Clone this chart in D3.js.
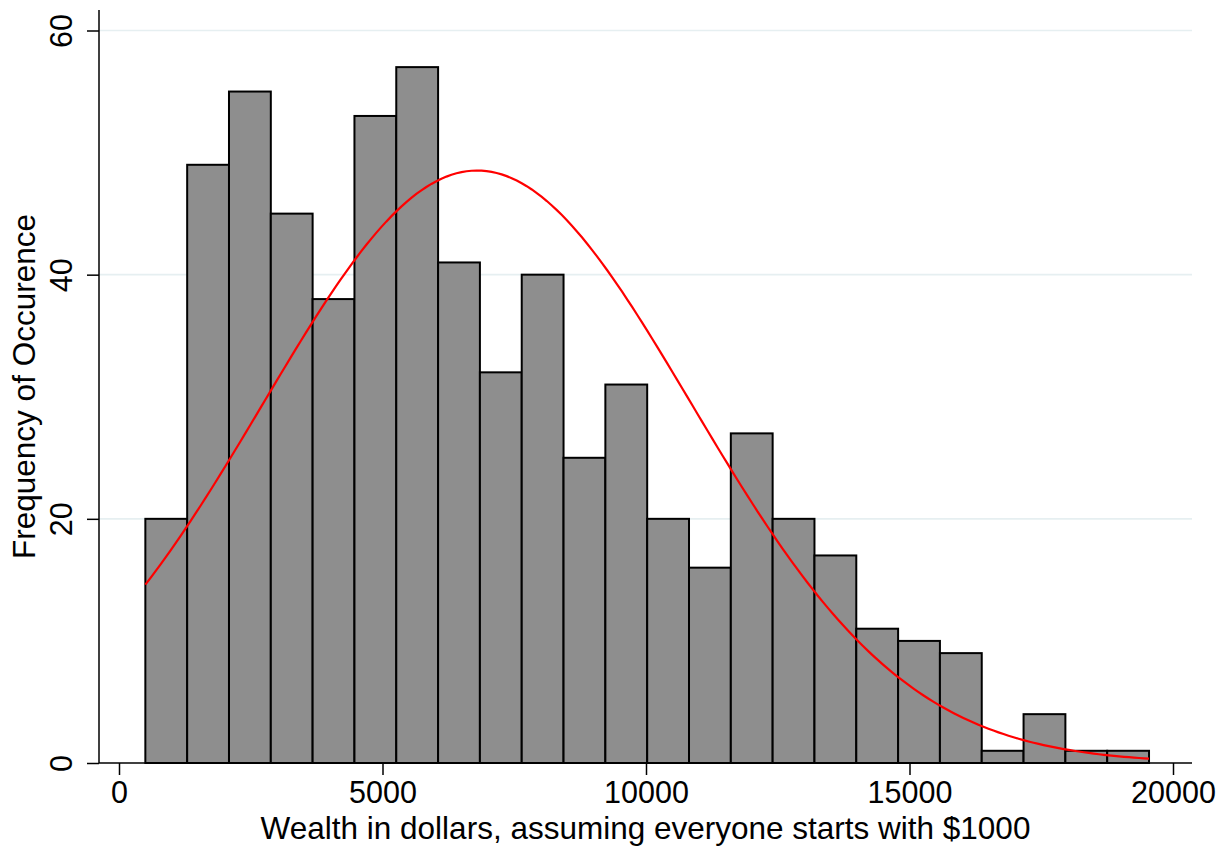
<!DOCTYPE html>
<html>
<head>
<meta charset="utf-8">
<script src="https://cdn.jsdelivr.net/npm/d3@7"></script>
<style>
  body { margin: 0; background: #fff; }
  svg { display: block; font-family: "Liberation Sans", Arial, sans-serif; }
</style>
</head>
<body>
<svg id="chart" width="1232" height="851"></svg>
<script>
// histogram data
const counts = [20, 49, 55, 45, 38, 53, 57, 41, 32, 40, 25, 31, 20, 16, 27, 20, 17, 11, 10, 9, 1, 4, 1, 1];
const binMin = 500;
const binMax = 19545;
const xTicks = [0, 5000, 10000, 15000, 20000];
const yTicks = [0, 20, 40, 60];
const gridTicks = [20, 40, 60];
const xTitle = "Wealth in dollars, assuming everyone starts with $1000";
const yTitle = "Frequency of Occurence";

const svg = d3.select("#chart");

// plot region (pixels)
const plotL = 99, plotR = 1192, plotT = 10, plotB = 763;

const x = d3.scaleLinear().domain([0, 20000]).range([119, 1173]);
const y = d3.scaleLinear().domain([0, 60]).range([plotB, 30.5]);

const binW = (binMax - binMin) / counts.length;
const bins = counts.map((c, i) => ({ x0: binMin + i * binW, x1: binMin + (i + 1) * binW, n: c }));

// grid lines
svg.append("g").selectAll("line")
    .data(gridTicks)
    .enter().append("line")
    .attr("x1", plotL).attr("x2", plotR)
    .attr("y1", d => y(d)).attr("y2", d => y(d))
    .attr("stroke", "#e6eff1")
    .attr("stroke-width", 1.6);

// bars
svg.append("g").selectAll("rect")
    .data(bins)
    .enter().append("rect")
    .attr("x", d => x(d.x0))
    .attr("y", d => y(d.n))
    .attr("width", d => x(d.x1) - x(d.x0))
    .attr("height", d => y(0) - y(d.n))
    .attr("fill", "#8e8e8e")
    .attr("stroke", "#000")
    .attr("stroke-width", 2);

// normal curve fitted to the binned data (mean / sd from bin midpoints)
const N = d3.sum(counts);
const mids = bins.map(b => (b.x0 + b.x1) / 2);
const mean = d3.sum(bins, (b, i) => b.n * mids[i]) / N;
const sd = Math.sqrt(d3.sum(bins, (b, i) => b.n * (mids[i] - mean) ** 2) / N);
const curvePts = d3.range(0, 201).map(k => {
    const v = binMin + (binMax - binMin) * k / 200;
    const z = (v - mean) / sd;
    return [v, N * binW * Math.exp(-z * z / 2) / (sd * Math.sqrt(2 * Math.PI))];
});
svg.append("path")
    .datum(curvePts)
    .attr("fill", "none")
    .attr("stroke", "#ff0000")
    .attr("stroke-width", 2.2)
    .attr("d", d3.line().x(d => x(d[0])).y(d => y(d[1])));

// axes
const yAxis = svg.append("g")
    .attr("transform", `translate(${plotL},0)`)
    .call(d3.axisLeft(y).tickValues(yTicks).tickSize(12).tickFormat(d3.format("d")));
yAxis.select(".domain").remove();
yAxis.selectAll(".tick line").attr("stroke", "#000").attr("stroke-width", 1.5);
yAxis.selectAll(".tick text")
    .attr("x", 0).attr("y", -27).attr("dy", 0)
    .attr("transform", "rotate(-90)")
    .attr("text-anchor", "middle")
    .attr("fill", "#000")
    .style("font-size", "30.5px")
    .style("font-family", "Liberation Sans, Arial, sans-serif");

const xAxis = svg.append("g")
    .attr("transform", `translate(0,${plotB})`)
    .call(d3.axisBottom(x).tickValues(xTicks).tickSize(12).tickFormat(d3.format("d")));
xAxis.select(".domain").remove();
xAxis.selectAll(".tick line").attr("stroke", "#000").attr("stroke-width", 1.5);
xAxis.selectAll(".tick text")
    .attr("y", 40).attr("dy", 0)
    .attr("fill", "#000")
    .style("font-size", "30.5px")
    .style("font-family", "Liberation Sans, Arial, sans-serif");

// axis lines
svg.append("line")
    .attr("x1", plotL).attr("x2", plotL).attr("y1", plotT).attr("y2", plotB)
    .attr("stroke", "#000").attr("stroke-width", 1.5);
svg.append("line")
    .attr("x1", plotL).attr("x2", plotR).attr("y1", plotB).attr("y2", plotB)
    .attr("stroke", "#000").attr("stroke-width", 1.5);

// titles
svg.append("text")
    .attr("x", (plotL + plotR) / 2).attr("y", 839)
    .attr("text-anchor", "middle")
    .style("font-size", "31.5px")
    .text(xTitle);
svg.append("text")
    .attr("transform", `translate(35,${(plotT + plotB) / 2}) rotate(-90)`)
    .attr("text-anchor", "middle")
    .style("font-size", "31.5px")
    .text(yTitle);
</script>
</body>
</html>
